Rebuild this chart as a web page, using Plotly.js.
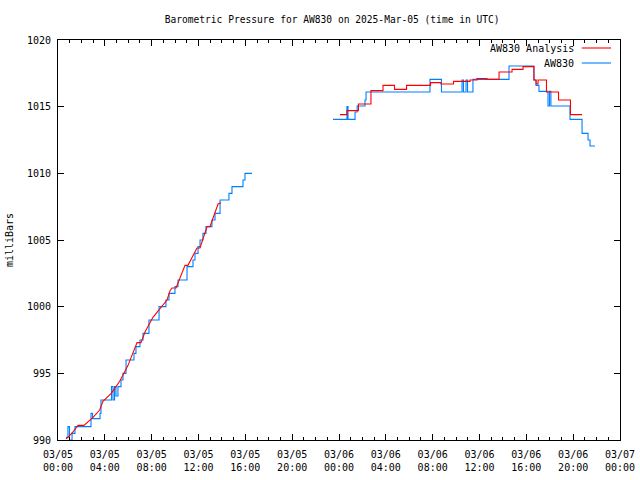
<!DOCTYPE html>
<html>
<head>
<meta charset="utf-8">
<script src="https://cdn.plot.ly/plotly-3.0.1.min.js"></script>
<style>html,body{margin:0;padding:0;background:#fff;}#chart{width:640px;height:480px;}</style>
</head>
<body>
<div id="chart"></div>
<script>
// Hours since 2025-03-05 00:00 UTC, pressures in milliBars
const blueHours = [0.68,0.85,0.98,1.2,1.45,2.82,2.95,3.59,3.67,4.57,4.70,4.83,4.95,5.12,5.38,5.55,5.81,6.49,6.66,7.0,7.26,7.77,8.63,9.22,9.48,9.99,10.25,11.02,11.53,11.7,11.96,12.13,12.38,12.64,13.15,13.41,13.84,14.6,14.86,15.8,15.97,16.57,
  null,
  23.49,24.68,24.77,25.37,25.55,26.22,26.31,31.77,32.75,34.51,34.63,34.85,34.98,35.44,38.52,40.65,40.83,41.08,41.85,41.98,42.1,43.73,44.76,45.27,45.44,45.87];
const bluePress = [990.2,991,990.0,990.5,991,992,991.6,992,993,994,993.0,994,993.3,994,994.5,995,996,996.5,997,997.5,998,999,1000,1000.5,1001,1001.5,1002,1003,1003.5,1004,1004.5,1005,1005.5,1006,1006.5,1007,1008,1008.5,1009,1009.5,1010,1010,
  null,
  1014.05,1015,1014.05,1014.6,1015.05,1015.5,1016.1,1017.05,1016.1,1017,1016.1,1017,1016.1,1017.05,1018.05,1017.0,1016.6,1016.15,1015.05,1016.15,1015.05,1014.05,1013,1012.5,1012.05,1012.05];

const redHours1 = [0.68,0.85,1.28,1.71,2.22,2.99,3.56,3.84,4.55,5.27,5.98,6.75,7.09,7.43,8.11,8.97,9.31,9.57,9.74,10.08,10.85,11.10,11.87,12.13,12.73,12.98,13.67,13.92];
const redPress1 = [990.1,990.2,990.6,991.1,991.1,991.7,992.25,992.9,993.5,994.4,995.6,997.3,997.3,998.1,999.2,1000.1,1000.5,1001.2,1001.4,1001.4,1003.1,1003.1,1004.4,1004.4,1006.0,1006.0,1007.7,1007.8];
const redHours2 = [24.08,24.68,25.66,26.73,27.76,28.74,29.77,31.82,32.71,33.78,35.19,35.79,36.64,37.67,38.78,39.72,40.65,40.83,41.0,41.72,42.75,43.77,44.76];
const redPress2 = [1014.4,1014.7,1015.2,1016.2,1016.6,1016.3,1016.6,1016.8,1016.7,1016.9,1017.0,1017.1,1017.05,1017.6,1017.8,1018.0,1017.0,1016.7,1017.0,1016.1,1015.5,1014.4,1014.4];

const seriesNames = ['AW830 Analysis', 'AW830'];
const seriesColors = ['#ff0000', '#0080ff'];
const titleText = 'Barometric Pressure for AW830 on 2025-Mar-05 (time in UTC)';

const T0 = Date.UTC(2025, 2, 5);
const toDate = h => h === null ? null : new Date(T0 + h * 3600000).toISOString().slice(0, 19).replace('T', ' ');

const font = 'DejaVu Sans Mono, monospace';

const traces = [
  {x: blueHours.map(toDate), y: bluePress, mode: 'lines', line: {color: seriesColors[1], width: 1.1, shape: 'hv'}, connectgaps: false, name: seriesNames[1], hoverinfo: 'skip'},
  {x: redHours1.map(toDate), y: redPress1, mode: 'lines', line: {color: seriesColors[0], width: 1.1}, name: seriesNames[0], hoverinfo: 'skip'},
  {x: redHours2.map(toDate), y: redPress2, mode: 'lines', line: {color: seriesColors[0], width: 1.1, shape: 'hv'}, name: seriesNames[0], hoverinfo: 'skip'}
];

const layout = {
  width: 640, height: 480,
  margin: {l: 58, r: 20, t: 40, b: 40, pad: 0},
  paper_bgcolor: '#fff', plot_bgcolor: '#fff',
  showlegend: false,
  font: {family: font, size: 10, color: '#000'},
  title: {text: titleText, font: {family: font, size: 9.6, color: '#000'}, xref: 'container', x: 0.519, xanchor: 'center', yref: 'container', y: 1 - 20/480, yanchor: 'middle'},
  xaxis: {
    type: 'date', range: ['2025-03-05 00:00', '2025-03-07 00:00'],
    tick0: '2025-03-05 00:00', dtick: 4 * 3600000, tickformat: '%m/%d<br>%H:%M',
    ticks: 'inside', ticklen: 6, tickcolor: '#000', tickwidth: 1,
    showline: true, linecolor: '#000', linewidth: 1, mirror: 'allticks',
    showgrid: false, zeroline: false, ticklabelstandoff: 5,
    minor: {dtick: 3600000, ticks: 'inside', ticklen: 3, tickcolor: '#000', showgrid: false},
    tickfont: {family: font, size: 10, color: '#000'}
  },
  yaxis: {
    range: [990, 1020], dtick: 5, tick0: 990,
    ticks: 'inside', ticklen: 6, tickcolor: '#000', tickwidth: 1,
    showline: true, linecolor: '#000', linewidth: 1, mirror: 'allticks',
    showgrid: false, zeroline: false, ticklabelstandoff: 4,
    tickfont: {family: font, size: 10, color: '#000'},
    title: {text: 'milliBars', standoff: 11, font: {family: font, size: 10, color: '#000'}}
  },
  annotations: seriesNames.map((n, i) => ({
    text: n, xref: 'paper', yref: 'paper', x: 0.921, y: 0.98 - i * 0.0375,
    xanchor: 'right', yanchor: 'middle', showarrow: false,
    font: {family: font, size: 10, color: '#000'}
  })),
  shapes: seriesNames.map((n, i) => ({
    type: 'line', xref: 'paper', yref: 'paper', x0: 0.932, x1: 0.984,
    y0: 0.98 - i * 0.0375, y1: 0.98 - i * 0.0375,
    line: {color: seriesColors[i], width: 1.1}
  }))
};

Plotly.newPlot('chart', traces, layout, {staticPlot: true, displayModeBar: false});
</script>
</body>
</html>
